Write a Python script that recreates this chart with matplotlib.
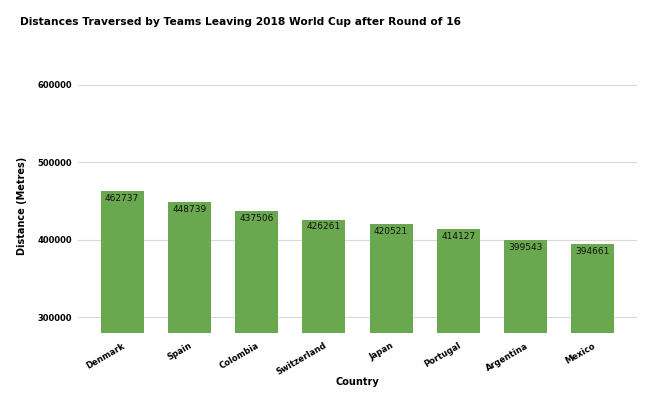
import matplotlib.pyplot as plt

countries = ['Denmark', 'Spain', 'Colombia', 'Switzerland', 'Japan',
             'Portugal', 'Argentina', 'Mexico']
distances = [462737, 448739, 437506, 426261, 420521, 414127, 399543, 394661]
yticks = [300000, 400000, 500000, 600000]

fig = plt.figure(figsize=(6.54, 4.04), dpi=100)
ax = fig.add_axes([0.119, 0.176, 0.855, 0.633])

x = range(len(countries))
bars = ax.bar(x, distances, width=0.64, color='#6aa84f', zorder=2)
for b, v in zip(bars, distances):
    ax.text(b.get_x() + b.get_width() / 2, v - 3500, str(v),
            ha='center', va='top', fontsize=6.5, color='#111111', zorder=3)

ax.set_ylim(280000, 610000)
ax.set_xlim(-0.66, 7.66)
ax.set_yticks(yticks)
ax.set_yticklabels([str(t) for t in yticks], fontsize=6, fontweight='bold')
ax.set_xticks(list(x))
ax.set_xticklabels(countries, fontsize=6, fontweight='bold',
                   rotation=30, ha='right', rotation_mode='anchor')
ax.tick_params(length=0, pad=4)
ax.tick_params(axis='x', pad=6)
ax.grid(axis='y', color='#d9d9d9', linewidth=0.8, zorder=0)
for s in ax.spines.values():
    s.set_visible(False)

fig.text(0.546, 0.054, 'Country', fontsize=7, fontweight='bold',
         ha='center', va='center')
fig.text(0.034, 0.49, 'Distance (Metres)', fontsize=7, fontweight='bold',
         ha='center', va='center', rotation=90)
fig.text(0.031, 0.945, 'Distances Traversed by Teams Leaving 2018 World Cup after Round of 16',
         fontsize=7.7, fontweight='bold', ha='left', va='center')

fig.savefig('out.png', dpi=100)
